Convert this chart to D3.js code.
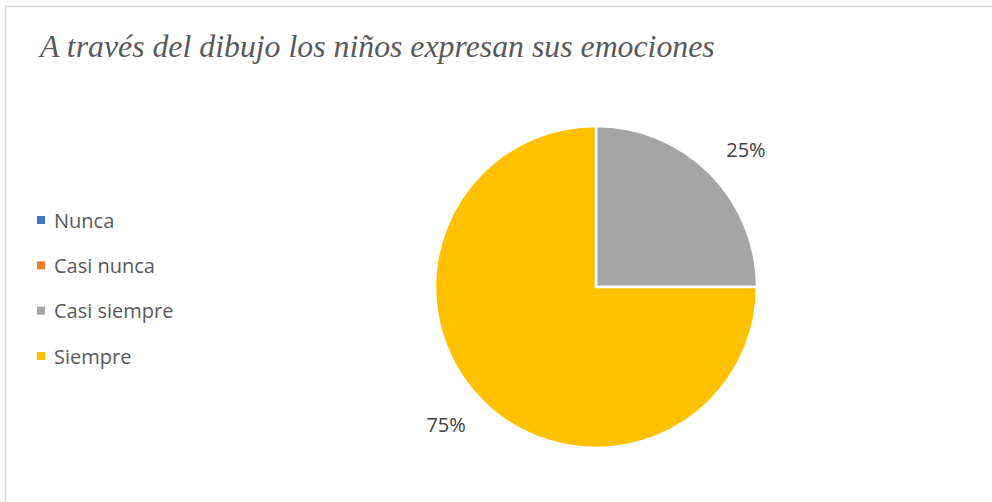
<!DOCTYPE html>
<html>
<head>
<meta charset="utf-8">
<script src="https://cdn.jsdelivr.net/npm/d3@7"></script>
<style>
  html, body { margin: 0; padding: 0; background: #fff; }
  svg { display: block; }
</style>
</head>
<body>
<svg id="chart" width="992" height="502"></svg>
<script>
const title = "A través del dibujo los niños expresan sus emociones";
const categories = ["Nunca", "Casi nunca", "Casi siempre", "Siempre"];
const values = [0, 0, 25, 75];
const colors = ["#4472C4", "#ED7D31", "#A5A5A5", "#FFC000"];

const svg = d3.select("#chart");
const W = 992, H = 502;

// chart border
svg.append("rect")
  .attr("x", 5.5).attr("y", 6.5)
  .attr("width", W).attr("height", H)
  .attr("fill", "#fff")
  .attr("stroke", "#d9d9d9").attr("stroke-width", 1.5);

// title
svg.append("text")
  .attr("x", 40).attr("y", 57)
  .attr("font-family", "'Liberation Serif', 'Times New Roman', serif")
  .attr("font-style", "italic")
  .attr("font-size", 31.8)
  .attr("fill", "#595959")
  .text(title);

// pie
const cx = 596, cy = 287, r = 161;
const total = d3.sum(values);
const pie = d3.pie().sort(null).value(d => d);
const arcs = pie(values);
const arc = d3.arc().innerRadius(0).outerRadius(r);
const labelRx = 212, labelRy = 195;
const labelPos = d => {
  const a = (d.startAngle + d.endAngle) / 2;
  return [Math.sin(a) * labelRx, -Math.cos(a) * labelRy];
};

const g = svg.append("g").attr("transform", `translate(${cx},${cy})`);
g.selectAll("path")
  .data(arcs.filter(d => d.value > 0))
  .join("path")
  .attr("d", arc)
  .attr("fill", d => colors[d.index])
  .attr("stroke", "#fff")
  .attr("stroke-width", 2.5)
  .attr("stroke-linejoin", "miter");

const fmt = d3.format(".0%");
g.selectAll("text.lbl")
  .data(arcs.filter(d => d.value > 0))
  .join("text")
  .attr("class", "lbl")
  .attr("transform", d => `translate(${labelPos(d)})`)
  .attr("text-anchor", "middle")
  .attr("dominant-baseline", "central")
  .attr("font-family", "'Open Sans', sans-serif")
  .attr("font-size", 20)
  .attr("fill", "#404040")
  .text(d => fmt(d.value / total));

// legend
const legendY = d3.scalePoint().domain(categories).range([220, 356]);
const lg = svg.append("g");
const items = lg.selectAll("g").data(categories).join("g")
  .attr("transform", d => `translate(37,${legendY(d)})`);
items.append("rect")
  .attr("x", 0).attr("y", -4)
  .attr("width", 8).attr("height", 8)
  .attr("fill", (d, i) => colors[i]);
items.append("text")
  .attr("x", 17).attr("y", 0)
  .attr("dominant-baseline", "central")
  .attr("font-family", "'Open Sans', sans-serif")
  .attr("font-size", 20)
  .attr("fill", "#595959")
  .text(d => d);
</script>
</body>
</html>
